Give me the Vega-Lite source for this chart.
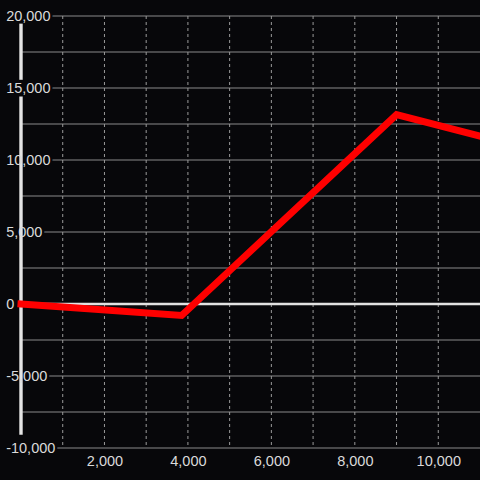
{
  "$schema": "https://vega.github.io/schema/vega-lite/v6.json",
  "width": 459,
  "height": 432,
  "autosize": {"type": "none"},
  "padding": {"left": 21, "top": 16, "right": 0, "bottom": 32},
  "background": "#07070a",
  "config": {
    "view": {"stroke": null},
    "font": "Liberation Sans",
    "scale": {"nice": false, "zero": false},
    "locale": {"number": {"decimal": ".", "thousands": ",", "grouping": [3], "currency": ["$", ""], "minus": "-"}}
  },
  "datasets": {
    "hgrid": [{"v": -10000}, {"v": -7500}, {"v": -5000}, {"v": -2500}, {"v": 2500}, {"v": 5000}, {"v": 7500}, {"v": 10000}, {"v": 12500}, {"v": 15000}, {"v": 17500}, {"v": 20000}],
    "vgrid": [{"v": 1000}, {"v": 2000}, {"v": 3000}, {"v": 4000}, {"v": 5000}, {"v": 6000}, {"v": 7000}, {"v": 8000}, {"v": 9000}, {"v": 10000}],
    "ylabels": [{"v": -10000}, {"v": -5000}, {"v": 0}, {"v": 5000}, {"v": 10000}, {"v": 15000}, {"v": 20000}],
    "axisline": [{"from": -9080, "to": 14410}, {"from": 15570, "to": 19470}],
    "series": [{"x": 0, "y": 0}, {"x": 3850, "y": -800}, {"x": 9000, "y": 13150}, {"x": 11000, "y": 11650}]
  },
  "layer": [
    {
      "data": {"name": "hgrid"},
      "mark": {"type": "rule", "color": "#8a8a8a", "strokeWidth": 1},
      "encoding": {
        "y": {"field": "v", "type": "quantitative", "scale": {"domain": [-10000, 20000]},
          "axis": {"values": [-10000, -5000, 0, 5000, 10000, 15000, 20000], "format": ",.0f", "title": null, "domain": false, "ticks": false, "tickSize": 0, "grid": false, "labelFont": "Liberation Sans", "labelFontSize": 14.5, "labelColor": "#dadada", "labelAlign": "left", "labelBaseline": "middle", "labelPadding": 15.35, "labelOverlap": false, "labelBound": false, "labelFlush": false, "zindex": 1}}
      }
    },
    {
      "data": {"name": "vgrid"},
      "mark": {"type": "rule", "color": "#9a9a9a", "strokeWidth": 1, "strokeDash": [3, 3]},
      "encoding": {
        "x": {"field": "v", "type": "quantitative", "scale": {"domain": [0, 11000]},
          "axis": {"values": [2000, 4000, 6000, 8000, 10000], "format": ",.0f", "title": null, "domain": false, "ticks": false, "tickSize": 0, "grid": false, "labelFont": "Liberation Sans", "labelFontSize": 14.5, "labelColor": "#dadada", "labelPadding": 6, "labelOverlap": false, "labelBound": false, "labelFlush": false, "zindex": 1}}
      }
    },
    {
      "data": {"values": [{"v": 0}]},
      "mark": {"type": "rule", "color": "#e2e2e2", "strokeWidth": 2.6},
      "encoding": {
        "y": {"field": "v", "type": "quantitative", "scale": {"domain": [-10000, 20000]},
          "axis": {"values": [-10000, -5000, 0, 5000, 10000, 15000, 20000], "format": ",.0f", "title": null, "domain": false, "ticks": false, "tickSize": 0, "grid": false, "labelFont": "Liberation Sans", "labelFontSize": 14.5, "labelColor": "#dadada", "labelAlign": "left", "labelBaseline": "middle", "labelPadding": 15.35, "labelOverlap": false, "labelBound": false, "labelFlush": false, "zindex": 1}}
      }
    },
    {
      "data": {"name": "ylabels"},
      "mark": {"type": "text", "align": "left", "baseline": "middle", "dx": -15.35, "font": "Liberation Sans", "fontSize": 14.5, "fill": "#07070a", "stroke": "#07070a", "strokeWidth": 6},
      "encoding": {
        "x": {"datum": 0, "type": "quantitative", "scale": {"domain": [0, 11000]},
          "axis": {"values": [2000, 4000, 6000, 8000, 10000], "format": ",.0f", "title": null, "domain": false, "ticks": false, "tickSize": 0, "grid": false, "labelFont": "Liberation Sans", "labelFontSize": 14.5, "labelColor": "#dadada", "labelPadding": 6, "labelOverlap": false, "labelBound": false, "labelFlush": false, "zindex": 1}},
        "y": {"field": "v", "type": "quantitative", "scale": {"domain": [-10000, 20000]},
          "axis": {"values": [-10000, -5000, 0, 5000, 10000, 15000, 20000], "format": ",.0f", "title": null, "domain": false, "ticks": false, "tickSize": 0, "grid": false, "labelFont": "Liberation Sans", "labelFontSize": 14.5, "labelColor": "#dadada", "labelAlign": "left", "labelBaseline": "middle", "labelPadding": 15.35, "labelOverlap": false, "labelBound": false, "labelFlush": false, "zindex": 1}},
        "text": {"field": "v", "type": "quantitative", "format": ",.0f"}
      }
    },
    {
      "data": {"name": "axisline"},
      "mark": {"type": "rule", "color": "#e4e4e4", "strokeWidth": 3.4},
      "encoding": {
        "x": {"datum": 0, "type": "quantitative", "scale": {"domain": [0, 11000]},
          "axis": {"values": [2000, 4000, 6000, 8000, 10000], "format": ",.0f", "title": null, "domain": false, "ticks": false, "tickSize": 0, "grid": false, "labelFont": "Liberation Sans", "labelFontSize": 14.5, "labelColor": "#dadada", "labelPadding": 6, "labelOverlap": false, "labelBound": false, "labelFlush": false, "zindex": 1}},
        "y": {"field": "from", "type": "quantitative", "scale": {"domain": [-10000, 20000]},
          "axis": {"values": [-10000, -5000, 0, 5000, 10000, 15000, 20000], "format": ",.0f", "title": null, "domain": false, "ticks": false, "tickSize": 0, "grid": false, "labelFont": "Liberation Sans", "labelFontSize": 14.5, "labelColor": "#dadada", "labelAlign": "left", "labelBaseline": "middle", "labelPadding": 15.35, "labelOverlap": false, "labelBound": false, "labelFlush": false, "zindex": 1}},
        "y2": {"field": "to"}
      }
    },
    {
      "data": {"name": "series"},
      "mark": {"type": "line", "color": "#ff0000", "strokeWidth": 7, "strokeCap": "square", "strokeJoin": "miter"},
      "encoding": {
        "x": {"field": "x", "type": "quantitative", "scale": {"domain": [0, 11000]},
          "axis": {"values": [2000, 4000, 6000, 8000, 10000], "format": ",.0f", "title": null, "domain": false, "ticks": false, "tickSize": 0, "grid": false, "labelFont": "Liberation Sans", "labelFontSize": 14.5, "labelColor": "#dadada", "labelPadding": 6, "labelOverlap": false, "labelBound": false, "labelFlush": false, "zindex": 1}},
        "y": {"field": "y", "type": "quantitative", "scale": {"domain": [-10000, 20000]},
          "axis": {"values": [-10000, -5000, 0, 5000, 10000, 15000, 20000], "format": ",.0f", "title": null, "domain": false, "ticks": false, "tickSize": 0, "grid": false, "labelFont": "Liberation Sans", "labelFontSize": 14.5, "labelColor": "#dadada", "labelAlign": "left", "labelBaseline": "middle", "labelPadding": 15.35, "labelOverlap": false, "labelBound": false, "labelFlush": false, "zindex": 1}}
      }
    }
  ]
}
